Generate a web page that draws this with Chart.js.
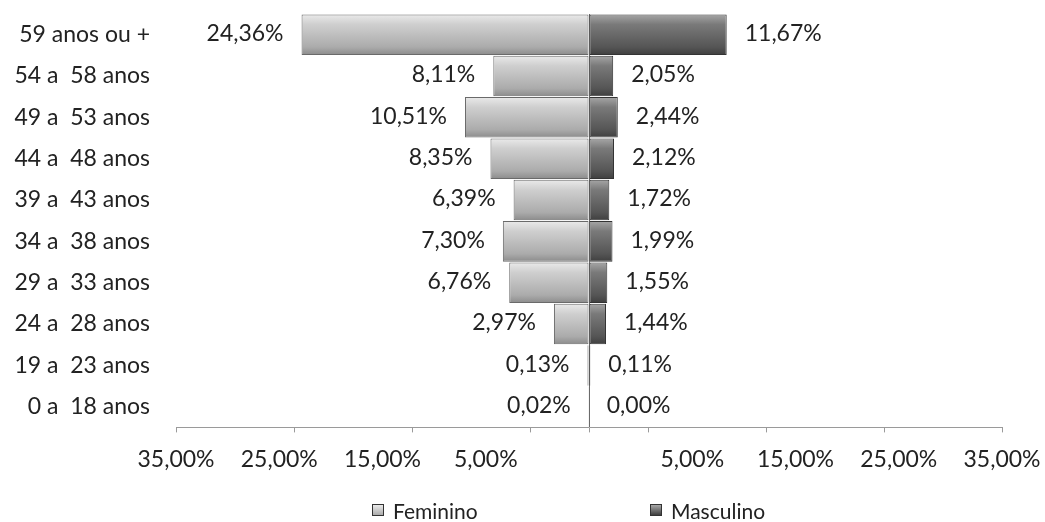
<!DOCTYPE html>
<html>
<head>
<meta charset="utf-8">
<script src="https://cdn.jsdelivr.net/npm/chart.js@4/dist/chart.umd.min.js"></script>
<style>
  html, body { margin: 0; padding: 0; background: #fff; }
  #wrap { position: relative; width: 1045px; height: 522px; }
  #legend { position: absolute; left: 0; top: 495px; width: 1045px; height: 30px;
            font-family: Lato, "Noto Sans", sans-serif; font-size: 21px; color: #222; }
  .item { position: absolute; top: 0; display: flex; align-items: center; height: 30px; }
  .box { width: 10px; height: 10px; margin-right: 9px; border: 1px solid #333; }
</style>
</head>
<body>
<div id="wrap">
  <canvas id="chart" width="1045" height="522"></canvas>
  <div id="legend"></div>
</div>
<script>
const ageGroups = ["59 anos ou +", "54 a  58 anos", "49 a  53 anos", "44 a  48 anos", "39 a  43 anos",
                   "34 a  38 anos", "29 a  33 anos", "24 a  28 anos", "19 a  23 anos", "0 a  18 anos"];
const feminino = [24.36, 8.11, 10.51, 8.35, 6.39, 7.30, 6.76, 2.97, 0.13, 0.02];
const masculino = [11.67, 2.05, 2.44, 2.12, 1.72, 1.99, 1.55, 1.44, 0.11, 0.00];
const seriesNames = ["Feminino", "Masculino"];

const tickMarks = [-35, -25, -15, -5, 0, 5, 15, 25, 35];
const labelPositions = [-35, -26.25, -17.5, -8.75, 0, 8.75, 17.5, 26.25, 35];
const tickLabels = ["35,00%", "25,00%", "15,00%", "5,00%", "", "5,00%", "15,00%", "25,00%", "35,00%"];

const fontFamily = 'Lato, "Noto Sans", sans-serif';
const fontSize = 23;
const fmt = v => Math.abs(v).toFixed(2).replace(".", ",") + "%";
const invisible = "rgba(0,0,0,0)";

// degradê vertical em cada barra
function barFill(stops) {
  return function (ctx) {
    const chart = ctx.chart;
    const y = chart.scales.y;
    if (!y || ctx.dataIndex === undefined) return stops[1];
    const c = y.getPixelForValue(ctx.dataIndex);
    const h = (y.bottom - y.top) / ageGroups.length;
    if (!isFinite(c) || !isFinite(h) || h <= 0) return stops[1];
    const g = chart.ctx.createLinearGradient(0, c - h / 2, 0, c + h / 2);
    g.addColorStop(0, stops[0]);
    g.addColorStop(0.25, stops[1]);
    g.addColorStop(0.8, stops[2]);
    g.addColorStop(1, stops[3]);
    return g;
  };
}

const valueLabels = {
  id: "valueLabels",
  afterDatasetsDraw(chart) {
    const ctx = chart.ctx;
    ctx.save();
    ctx.font = fontSize + "px " + fontFamily;
    ctx.fillStyle = "#222";
    ctx.textBaseline = "middle";
    chart.data.datasets.forEach((ds, i) => {
      chart.getDatasetMeta(i).data.forEach((bar, j) => {
        const v = ds.data[j];
        if (i === 0) {
          ctx.textAlign = "right";
          ctx.fillText(fmt(v), bar.x - 18, bar.y - 1);
        } else {
          ctx.textAlign = "left";
          ctx.fillText(fmt(v), bar.x + 18, bar.y - 1);
        }
      });
    });
    ctx.restore();
  }
};

const chart = new Chart(document.getElementById("chart"), {
  type: "bar",
  data: {
    labels: ageGroups,
    datasets: [
      {
        label: seriesNames[0],
        data: feminino.map(v => -v),
        backgroundColor: barFill(["#ebebeb", "#cfcfcf", "#ababab", "#8a8a8a"]),
        borderColor: "#6a6a6a",
        borderWidth: 1,
        borderSkipped: false,
        barPercentage: 0.98,
        categoryPercentage: 1
      },
      {
        label: seriesNames[1],
        data: masculino,
        backgroundColor: barFill(["#a8a8a8", "#7a7a7a", "#555555", "#3e3e3e"]),
        borderColor: "#333",
        borderWidth: 1,
        borderSkipped: false,
        barPercentage: 0.98,
        categoryPercentage: 1
      }
    ]
  },
  options: {
    indexAxis: "y",
    responsive: false,
    animation: false,
    layout: { padding: { left: 0, right: 43, top: 14, bottom: 49 } },
    plugins: { legend: { display: false }, tooltip: { enabled: false } },
    scales: {
      y: {
        stacked: true,
        // marcas invisíveis só para afastar os rótulos do eixo
        grid: { drawOnChartArea: false, color: invisible, tickLength: 26 },
        border: { display: false },
        ticks: { padding: 0, color: "#222", font: { family: fontFamily, size: fontSize } },
        afterFit: s => { s.width = 176; }
      },
      x: {
        stacked: true,
        min: -35,
        max: 35,
        afterBuildTicks: a => { a.ticks = tickMarks.map(v => ({ value: v })); },
        grid: {
          color: c => (c.tick && c.tick.value === 0 ? "#6a6a6a" : invisible),
          tickColor: "#9a9a9a",
          tickLength: 5
        },
        border: { color: "#9a9a9a" },
        ticks: { display: false }
      },
      x2: {
        position: "bottom",
        min: -35,
        max: 35,
        afterBuildTicks: a => { a.ticks = labelPositions.map(v => ({ value: v })); },
        grid: { drawOnChartArea: false, color: invisible, tickLength: 13 },
        border: { display: false },
        ticks: {
          autoSkip: false,
          maxRotation: 0,
          padding: 0,
          color: "#222",
          font: { family: fontFamily, size: fontSize },
          callback: (v, i) => tickLabels[i]
        }
      }
    }
  },
  plugins: [valueLabels]
});

// legenda em HTML
const legend = document.getElementById("legend");
const legendX = [372, 650];
const legendColors = ["linear-gradient(#ebebeb, #ababab)", "linear-gradient(#a8a8a8, #3e3e3e)"];
seriesNames.forEach((name, i) => {
  const item = document.createElement("div");
  item.className = "item";
  item.style.left = legendX[i] + "px";
  const box = document.createElement("span");
  box.className = "box";
  box.style.background = legendColors[i];
  const txt = document.createElement("span");
  txt.textContent = name;
  item.appendChild(box);
  item.appendChild(txt);
  legend.appendChild(item);
});
</script>
</body>
</html>
